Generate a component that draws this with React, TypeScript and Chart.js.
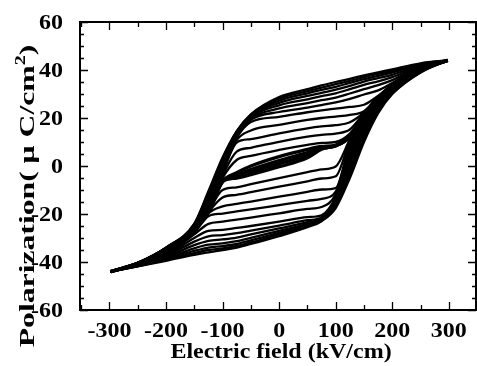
import { useEffect, useRef } from "react";
import { Chart, registerables } from "chart.js";

Chart.register(...registerables);

// Electric field (kV/cm) sampling of each branch
const descendingField = [298, 250, 200, 175, 150, 125, 100, 75, 50, 0, -50, -75, -100, -125, -150, -200, -250, -298];
const ascendingField = [-298, -250, -200, -150, -125, -100, -75, -50, 0, 50, 75, 100, 125, 150, 175, 200, 250, 298];

// Polarization (µC/cm²) of the descending (upper) branch of each loop, innermost first
const descendingP = [
  [44, 40.2, 33.1, 28.1, 21.2, 12.3, 8.6, 8.1, 6.9, 3.9, 0, -2.8, -6.5, -19.2, -26.6, -35, -40.6, -44],
  [44, 40.3, 33.2, 28.2, 21.3, 12.2, 8.4, 7.4, 5.6, 2.2, -1.5, -3.6, -6.4, -19, -26.5, -35, -40.6, -44],
  [44, 40.4, 33.4, 28.4, 21.6, 13.5, 10, 9.6, 8.8, 6.7, 4.2, 2.5, -5, -18.3, -26.3, -34.9, -40.6, -44],
  [44, 40.5, 33.6, 28.6, 22, 15.2, 13.5, 13, 12.2, 10.1, 7.6, 6, -4, -17.5, -26.1, -34.8, -40.55, -44],
  [44, 40.6, 33.7, 28.8, 22.3, 18.2, 17, 16.5, 15.7, 13.6, 11.2, 9.8, -3, -16.8, -25.9, -34.7, -40.5, -44],
  [44, 40.5, 33.9, 28.9, 22.8, 21.3, 20.6, 20, 19.2, 17.1, 14.8, 10.8, -2, -16, -25.7, -34.6, -40.5, -44],
  [44, 40.6, 34.1, 29.2, 25.5, 24.6, 23.9, 23.2, 22.4, 20.5, 18.3, 11.7, -1, -15.2, -25.5, -34.5, -40.5, -44],
  [44, 40.9, 34.6, 31.5, 29.8, 28, 26.5, 25.4, 24.3, 22.5, 19.2, 12.3, 0, -14.5, -25.3, -34.4, -40.45, -44],
  [44, 41.3, 35.8, 33.7, 32, 30.2, 28.5, 27.4, 26.2, 24, 19.8, 12.8, 0.8, -13.8, -25.1, -34.3, -40.45, -44],
  [44, 41.7, 37, 35.3, 33.8, 32, 30.3, 29.1, 27.8, 25.3, 20.3, 13.3, 1.5, -13, -24.9, -34.2, -40.4, -44],
  [44, 42, 38, 36.6, 35.2, 33.4, 31.8, 30.5, 29.2, 26.3, 20.7, 13.7, 2, -12.3, -24.7, -34.2, -40.4, -44],
  [44, 42.3, 38.9, 37.6, 36.2, 34.6, 33, 31.7, 30.3, 27.2, 21, 14, 2.5, -11.6, -24.5, -34.1, -40.35, -44],
  [44, 42.6, 39.6, 38.4, 37, 35.5, 34.1, 32.7, 31.2, 28, 21.3, 14.3, 3, -11, -24.2, -34.05, -40.3, -44],
  [44, 42.8, 40.3, 39, 37.8, 36.3, 35, 33.6, 32, 28.7, 21.5, 14.5, 3.5, -10.5, -24, -34, -40.3, -44],
];

// Polarization (µC/cm²) of the ascending (lower) branch of each loop, innermost first
const ascendingP = [
  [-44, -40.7, -35.2, -26.2, -18.4, -6.5, -5, -3.6, -0.3, 3.5, 7, 8.6, 12.3, 21.1, 28, 33, 40.3, 44],
  [-44, -40.7, -35.3, -26.3, -18.5, -6.3, -4.3, -2.6, 1, 4.5, 7.3, 8.5, 12.1, 21, 28, 33, 40.3, 44],
  [-44, -40.8, -35.5, -26.6, -18.8, -10, -8.9, -7.6, -5.1, -2.6, -1.4, -0.2, 11, 20.7, 27.8, 32.9, 40.2, 44],
  [-44, -40.9, -35.8, -27, -19.2, -13.1, -12, -10.9, -8.6, -6.4, -5.2, -4.3, 10.5, 20.4, 27.6, 32.7, 40.1, 44],
  [-44, -41, -36.1, -27.4, -19.7, -16.8, -15.8, -14.8, -12.8, -10.8, -9.8, -9.2, 9.5, 19.8, 27.2, 32.5, 40, 44],
  [-44, -41.1, -36.4, -27.9, -20.9, -19.8, -18.9, -18.1, -16.3, -14.5, -13.7, -10.7, 8, 19, 26.8, 32.3, 39.9, 44],
  [-44, -41.2, -36.8, -28.5, -24.1, -23.2, -22.3, -21.5, -19.7, -17.9, -17.1, -11.8, 6.5, 18, 26.3, 32, 39.8, 44],
  [-44, -41.3, -37.2, -30, -27, -26.6, -25.8, -25, -23.2, -21.3, -20.5, -12.8, 5, 17, 25.8, 31.7, 39.7, 44],
  [-44, -41.4, -37.6, -31.5, -29.3, -28.8, -28, -26.9, -24.8, -22.6, -21.3, -13.7, 3.5, 16, 25.2, 31.4, 39.6, 44],
  [-44, -41.5, -38, -33, -31.2, -30.6, -29.8, -28.5, -26, -23.4, -21.8, -14.5, 2, 15, 24.6, 31.1, 39.5, 44],
  [-44, -41.6, -38.4, -34.3, -32.8, -32.2, -31.3, -29.9, -27, -24.1, -22.2, -15.3, 0.5, 14, 24, 30.8, 39.4, 44],
  [-44, -41.7, -38.8, -35.4, -34, -33.4, -32.5, -31, -27.8, -24.6, -22.5, -16.1, -1.5, 12.8, 23.3, 30.5, 39.3, 44],
  [-44, -41.75, -39.1, -36.3, -35, -34.3, -33.3, -31.8, -28.5, -25.1, -22.8, -16.8, -3.2, 11.4, 22.6, 30.2, 39.1, 44],
  [-44, -41.8, -39.5, -37, -36, -35, -34, -32.5, -29.2, -25.5, -23, -17.5, -5, 10, 22, 30, 39, 44],
];

const xTickValues = [-300, -200, -100, 0, 100, 200, 300];
const xTickLabels = ["-300", "-200", "-100", "0", "100", "200", "300"];
const yTickValues = [-60, -40, -20, 0, 20, 40, 60];
const yTickLabels = ["-60", "-40", "-20", "0", "20", "40", "60"];
const xTitle = "Electric field (kV/cm)";
const yTitleMain = "Polarization( \u03bc C/cm";
const yTitleSup = "2";
const yTitleEnd = ")";

const FONT = '"Liberation Serif", "Times New Roman", serif';

const framePlugin = {
  id: "framePlugin",
  afterDatasetsDraw(chart: any) {
    const { ctx, chartArea: a, scales } = chart;
    const xs = scales.x;
    const ys = scales.y;
    ctx.save();
    ctx.strokeStyle = "#000";
    ctx.lineWidth = 2;
    ctx.strokeRect(a.left, a.top, a.right - a.left, a.bottom - a.top);

    // inward ticks on all four sides
    ctx.lineWidth = 1.3;
    ctx.beginPath();
    for (let v = -350; v <= 350; v += 50) {
      if (v < xs.min || v > xs.max) continue;
      const px = Math.round(xs.getPixelForValue(v)) + 0.5;
      const len = v % 100 === 0 ? 8 : 5;
      ctx.moveTo(px, a.bottom);
      ctx.lineTo(px, a.bottom - len);
      ctx.moveTo(px, a.top);
      ctx.lineTo(px, a.top + len);
    }
    for (let v = -60; v <= 60; v += 5) {
      const py = Math.round(ys.getPixelForValue(v)) + 0.5;
      const len = v % 20 === 0 ? 8 : 4;
      ctx.moveTo(a.left, py);
      ctx.lineTo(a.left + len, py);
      ctx.moveTo(a.right, py);
      ctx.lineTo(a.right - len, py);
    }
    ctx.stroke();

    ctx.fillStyle = "#000";
    ctx.textBaseline = "alphabetic";
    ctx.font = `bold 20px ${FONT}`;
    xTickValues.forEach((v, i) => {
      const px = xs.getPixelForValue(v);
      ctx.save();
      ctx.translate(px, 337);
      ctx.scale(1.2, 1);
      ctx.textAlign = "center";
      ctx.fillText(xTickLabels[i], 0, 0);
      ctx.restore();
    });
    yTickValues.forEach((v, i) => {
      const py = ys.getPixelForValue(v);
      ctx.save();
      ctx.translate(63, py + 7);
      ctx.scale(1.2, 1);
      ctx.textAlign = "right";
      ctx.fillText(yTickLabels[i], 0, 0);
      ctx.restore();
    });

    // x title
    ctx.save();
    ctx.translate(281, 358);
    ctx.scale(1.2, 1);
    ctx.textAlign = "center";
    ctx.fillText(xTitle, 0, 0);
    ctx.restore();

    // y title (rotated, with superscript)
    ctx.save();
    ctx.translate(34, 196);
    ctx.rotate(-Math.PI / 2);
    ctx.scale(1.44, 1);
    ctx.textAlign = "left";
    ctx.font = `bold 22px ${FONT}`;
    const w1 = ctx.measureText(yTitleMain).width;
    const w3 = ctx.measureText(yTitleEnd).width;
    ctx.font = `bold 14px ${FONT}`;
    const w2 = ctx.measureText(yTitleSup).width;
    const start = -(w1 + w2 + w3) / 2;
    ctx.font = `bold 22px ${FONT}`;
    ctx.fillText(yTitleMain, start, 0);
    ctx.font = `bold 14px ${FONT}`;
    ctx.fillText(yTitleSup, start + w1, -9);
    ctx.font = `bold 22px ${FONT}`;
    ctx.fillText(yTitleEnd, start + w1 + w2, 0);
    ctx.restore();

    ctx.restore();
  },
};

export default function App() {
  const ref = useRef<HTMLCanvasElement>(null);
  useEffect(() => {
    const datasets: any[] = [];
    descendingP.forEach((row, k) => {
      datasets.push({
        data: descendingField.map((e, i) => ({ x: e, y: row[i] })),
        borderWidth: k < 2 ? 3.4 : 2.3,
      });
    });
    ascendingP.forEach((row, k) => {
      datasets.push({
        data: ascendingField.map((e, i) => ({ x: e, y: row[i] })),
        borderWidth: k < 2 ? 3.4 : 2.3,
      });
    });
    datasets.forEach((d) => {
      d.showLine = true;
      d.borderColor = "#000";
      d.pointRadius = 0;
      d.fill = false;
      d.cubicInterpolationMode = "monotone";
    });
    const chart = new Chart(ref.current as HTMLCanvasElement, {
      type: "scatter",
      data: { datasets },
      options: {
        responsive: false,
        animation: false,
        devicePixelRatio: 1,
        events: [],
        layout: { padding: { left: 80, right: 1, top: 22, bottom: 56 } },
        plugins: { legend: { display: false }, tooltip: { enabled: false } },
        scales: {
          x: { type: "linear", min: -352, max: 348, display: false },
          y: { type: "linear", min: -60, max: 60, display: false },
        },
      },
      plugins: [framePlugin],
    } as any);
    return () => chart.destroy();
  }, []);
  return (
    <div style={{ position: "fixed", left: 0, top: 0, width: 477, height: 366, background: "#fff" }}>
      <canvas ref={ref} width={477} height={366} style={{ display: "block" }} />
    </div>
  );
}
